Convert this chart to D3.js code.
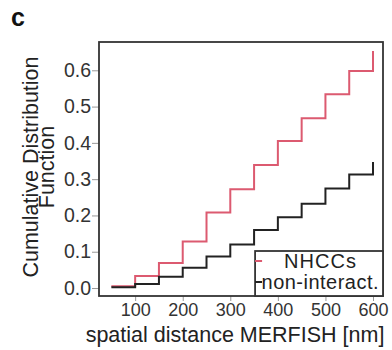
<!DOCTYPE html>
<html>
<head>
<meta charset="utf-8">
<script src="https://cdn.jsdelivr.net/npm/d3@7"></script>
<style>
  body { margin: 0; background: #fff; }
  svg { display: block; font-family: "Liberation Sans", Arial, sans-serif; }
</style>
</head>
<body>
<div id="chart"></div>
<script>
// distance bins (nm) and cumulative fractions
const distances = [50, 100, 150, 200, 250, 300, 350, 400, 450, 500, 550, 600];
const nhccs = [0.005, 0.033, 0.069, 0.128, 0.208, 0.272, 0.339, 0.405, 0.468, 0.534, 0.598, 0.653];
const nonInteract = [0.002, 0.011, 0.031, 0.056, 0.087, 0.12, 0.16, 0.195, 0.232, 0.274, 0.313, 0.347];
const seriesNames = ['NHCCs', 'non-interact.'];
const seriesColors = ['#dc5a70', '#222'];
const xTicks = [100, 200, 300, 400, 500, 600];
const yTicks = [0, 0.1, 0.2, 0.3, 0.4, 0.5, 0.6];

const width = 392, height = 350;
const margin = {top: 42, right: 9, bottom: 54, left: 99};
const innerW = width - margin.left - margin.right;
const innerH = height - margin.top - margin.bottom;

const svg = d3.select('#chart')
  .append('svg')
    .attr('width', width)
    .attr('height', height);

// panel letter
svg.append('text')
  .attr('x', 11)
  .attr('y', 26)
  .attr('font-size', 25)
  .attr('font-weight', 'bold')
  .attr('fill', '#111')
  .text('c');

const g = svg.append('g')
  .attr('transform', `translate(${margin.left},${margin.top})`);

const x = d3.scaleLinear()
  .domain([24, 621])
  .range([0, innerW]);

const y = d3.scaleLinear()
  .domain([-0.022, 0.678])
  .range([innerH, 0]);

// axes
const yAxis = g.append('g')
  .call(d3.axisLeft(y).tickValues(yTicks).tickSize(7).tickPadding(1).tickFormat(d3.format('.1f')));
yAxis.select('.domain').remove();
yAxis.selectAll('line').attr('stroke', '#999');
yAxis.selectAll('text')
  .attr('font-size', 19.5)
  .attr('fill', '#333')
  .attr('font-family', '"Liberation Sans", Arial, sans-serif');

const xAxis = g.append('g')
  .attr('transform', `translate(0,${innerH})`)
  .call(d3.axisBottom(x).tickValues(xTicks).tickSize(5).tickPadding(2));
xAxis.select('.domain').remove();
xAxis.selectAll('line').attr('stroke', '#999');
xAxis.selectAll('text')
  .attr('font-size', 18)
  .attr('fill', '#333')
  .attr('font-family', '"Liberation Sans", Arial, sans-serif');

// step lines
const line = d3.line()
  .curve(d3.curveStepAfter)
  .x((d, i) => x(distances[i]))
  .y(d => y(d));

[nhccs, nonInteract].forEach((vals, i) => {
  g.append('path')
    .datum(vals)
    .attr('fill', 'none')
    .attr('stroke', seriesColors[i])
    .attr('stroke-width', 2)
    .attr('d', line);
});

// plot frame
g.append('rect')
  .attr('width', innerW)
  .attr('height', innerH)
  .attr('fill', 'none')
  .attr('stroke', '#333')
  .attr('stroke-width', 1.8);

// legend
const legend = g.append('g')
  .attr('transform', `translate(${x(350) - x(24) + 1},${y(0.102)})`);
const legW = innerW - (x(350) - x(24) + 1);
const legH = innerH - y(0.102);
legend.append('rect')
  .attr('width', legW)
  .attr('height', legH)
  .attr('fill', '#fff')
  .attr('stroke', '#333')
  .attr('stroke-width', 1.8);

seriesNames.forEach((name, i) => {
  const cy = 10 + i * 21;
  legend.append('line')
    .attr('x1', 0).attr('x2', 7)
    .attr('y1', cy).attr('y2', cy)
    .attr('stroke', seriesColors[i])
    .attr('stroke-width', 2);
  legend.append('text')
    .attr('x', legW / 2 + 1)
    .attr('y', cy + 7)
    .attr('text-anchor', 'middle')
    .attr('font-size', 20)
    .attr('textLength', i === 0 ? 72 : 117)
    .attr('fill', '#222')
    .text(name);
});

// axis titles
svg.append('text')
  .attr('x', 235)
  .attr('y', 342)
  .attr('text-anchor', 'middle')
  .attr('font-size', 21.5)
  .attr('fill', '#222')
  .text('spatial distance MERFISH [nm]');

const yTitle = svg.append('text')
  .attr('transform', 'translate(38,167) rotate(-90)')
  .attr('text-anchor', 'middle')
  .attr('font-size', 21.5)
  .attr('fill', '#222');
yTitle.append('tspan').attr('x', 0).attr('dy', 0).text('Cumulative Distribution');
yTitle.append('tspan').attr('x', 0).attr('dy', 16).text('Function');
</script>
</body>
</html>
